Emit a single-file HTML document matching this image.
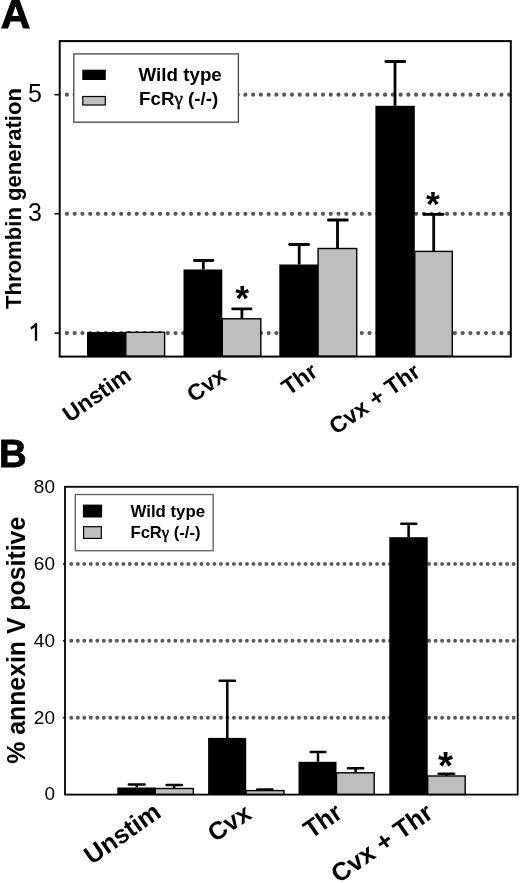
<!DOCTYPE html>
<html><head><meta charset="utf-8">
<style>
html,body{margin:0;padding:0;background:#fff;}
svg{display:block;filter:grayscale(1);}
text{font-family:"Liberation Sans",sans-serif;}
.b{font-weight:bold;}
</style></head><body>
<svg width="520" height="883" viewBox="0 0 520 883">
<rect x="0" y="0" width="520" height="883" fill="#fff"/>
<!-- ================= PANEL A ================= -->
<text x="0.7" y="28.1" class="b" font-size="41" stroke="#000" stroke-width="1" stroke-linejoin="miter">A</text>
<!-- grid dots -->
<g stroke="#585858" stroke-width="4.2" stroke-linecap="round" stroke-dasharray="0 7.76">
<line x1="66.9" y1="94.7" x2="510" y2="94.7"/>
<line x1="66.9" y1="213.8" x2="510" y2="213.8"/>
<line x1="66.9" y1="333.1" x2="510" y2="333.1"/>
</g>
<!-- ticks -->
<g stroke="#000" stroke-width="1.5">
<line x1="54.5" y1="94.7" x2="60" y2="94.7"/>
<line x1="54.5" y1="213.8" x2="60" y2="213.8"/>
<line x1="54.5" y1="333.1" x2="60" y2="333.1"/>
</g>
<g font-size="25" text-anchor="end">
<text x="42" y="102.1">5</text>
<text x="42" y="221.2">3</text>
</g>
<path d="M36 340.8V323.3M36.7 323.4C34.6 325.9 32.7 327.3 30.8 328.4" stroke="#000" stroke-width="2.3" fill="none"/>
<text class="b" font-size="21.3" text-anchor="middle" textLength="221" lengthAdjust="spacingAndGlyphs" transform="translate(20.8,198.5) rotate(-90)">Thrombin generation</text>
<!-- bars -->
<g fill="#000">
<rect x="87" y="332" width="38.8" height="24.3"/>
<rect x="183.5" y="269.5" width="38.8" height="86.8"/>
<rect x="279.3" y="264.5" width="38.8" height="91.8"/>
<rect x="375.4" y="105.8" width="39.4" height="250.5"/>
</g>
<g fill="#bebebe" stroke="#000" stroke-width="1.4">
<rect x="125.8" y="332.3" width="38.8" height="24"/>
<rect x="222.3" y="318.8" width="38.5" height="37.5"/>
<rect x="318.1" y="248.5" width="38.6" height="107.8"/>
<rect x="414.8" y="251.4" width="37.5" height="104.9"/>
</g>
<!-- error bars -->
<path d="M203.3 269.5V260.5M241.9 318.8V308.8M299.2 264.5V244.5M337.5 248.5V220M395 105.8V61.5M433.7 251.4V214.3" stroke="#000" stroke-width="2.8" fill="none"/>
<path d="M194.40 260.5H212.90M232.60 308.8H251.10M289.60 244.5H308.60M328.40 220H347.40M385.80 61.5H404.80M424.10 214.3H443.20" stroke="#000" stroke-width="2.8" stroke-linecap="round" fill="none"/>
<!-- asterisks -->
<g class="b" font-size="35.5" text-anchor="middle">
<text x="242.1" y="310.3">*</text>
<text x="433" y="215.8">*</text>
</g>
<!-- frame -->
<rect x="59.7" y="41.1" width="451.1" height="315.5" fill="none" stroke="#000" stroke-width="2"/>
<!-- legend -->
<rect x="73.8" y="53.9" width="164.6" height="68.3" fill="#fff" stroke="#444" stroke-width="1.3"/>
<rect x="82.3" y="69.7" width="23.5" height="10.3" fill="#000"/>
<rect x="82.8" y="96.5" width="22.5" height="8.5" fill="#c0c0c0" stroke="#000" stroke-width="1.2"/>
<g class="b" font-size="18.8">
<text x="138.5" y="80.6">Wild type</text>
<text x="139" y="104.6">FcR<tspan font-family="Liberation Serif" font-weight="normal" stroke="#000" stroke-width="0.5">γ</tspan> (-/-)</text>
</g>
<!-- x labels A -->
<g class="b" font-size="22.8" text-anchor="end">
<text transform="translate(132.8,378.6) rotate(-35)">Unstim</text>
<text transform="translate(228,379) rotate(-35)">Cvx</text>
<text transform="translate(319.2,374.8) rotate(-35)" textLength="37.6" lengthAdjust="spacingAndGlyphs">Thr</text>
<text transform="translate(421.7,375.2) rotate(-35)">Cvx + Thr</text>
</g>

<!-- ================= PANEL B ================= -->
<text x="-0.9" y="467.3" class="b" font-size="39.2" stroke="#000" stroke-width="0.8" textLength="27.7" lengthAdjust="spacingAndGlyphs">B</text>
<g stroke="#585858" stroke-width="3.9" stroke-linecap="round" stroke-dasharray="0 6.505">
<line x1="71.3" y1="563.9" x2="515" y2="563.9"/>
<line x1="71.3" y1="640.8" x2="515" y2="640.8"/>
<line x1="71.3" y1="717.7" x2="515" y2="717.7"/>
</g>
<g stroke="#000" stroke-width="1.5">
<line x1="63" y1="563.9" x2="65" y2="563.9"/>
<line x1="63" y1="640.8" x2="65" y2="640.8"/>
<line x1="63" y1="717.7" x2="65" y2="717.7"/>
</g>
<g font-size="19" text-anchor="end">
<text x="55" y="493">80</text>
<text x="55" y="570">60</text>
<text x="55" y="647.1">40</text>
<text x="55" y="724">20</text>
<text x="55" y="800.4">0</text>
</g>
<text class="b" font-size="26" text-anchor="middle" textLength="247" lengthAdjust="spacingAndGlyphs" transform="translate(24.5,640.3) rotate(-90)">% annexin V positive</text>
<g fill="#000">
<rect x="117.3" y="787.5" width="38" height="7"/>
<rect x="208.1" y="737.9" width="38.1" height="56.6"/>
<rect x="298.5" y="761.8" width="38" height="32.7"/>
<rect x="389.3" y="537.2" width="38.4" height="257.3"/>
</g>
<g fill="#bebebe" stroke="#000" stroke-width="1.4">
<rect x="155.2" y="788.5" width="38.1" height="6"/>
<rect x="246.2" y="790.6" width="37.8" height="3.9"/>
<rect x="336.5" y="772.8" width="37.7" height="21.7"/>
<rect x="427.7" y="776" width="37.5" height="18.5"/>
</g>
<path d="M136.7 787.5V784.6M174.2 788.5V785.1M227.3 737.9V680.8M264.9 790.6V789.4M318 761.8V752M355.6 772.8V768.3M408.6 537.2V523.7M446.3 776V773.8" stroke="#000" stroke-width="2.5" fill="none"/>
<path d="M128.85 784.6H144.55M166.65 785.1H181.85M219.55 680.8H234.95M257.25 789.4H272.45M310.75 752H325.35M347.95 768.3H363.25M401.25 523.7H416.35M438.55 773.8H454.15" stroke="#000" stroke-width="2.5" stroke-linecap="round" fill="none"/>
<text class="b" font-size="38.6" text-anchor="middle" x="445.6" y="778.8">*</text>
<rect x="65" y="486.8" width="452.7" height="307.8" fill="none" stroke="#000" stroke-width="1.8"/>
<rect x="75.3" y="494.5" width="137.8" height="56.2" fill="#fff" stroke="#666" stroke-width="1.4"/>
<rect x="82.9" y="504.6" width="19.2" height="12.9" fill="#000"/>
<rect x="83.6" y="526.7" width="17.7" height="11.7" fill="#c0c0c0" stroke="#000" stroke-width="1.2"/>
<g class="b" font-size="16.2">
<text x="130.5" y="517" textLength="74.6" lengthAdjust="spacingAndGlyphs">Wild type</text>
<text x="130.5" y="538.2" textLength="70" lengthAdjust="spacingAndGlyphs">FcR<tspan font-family="Liberation Serif" font-weight="normal" stroke="#000" stroke-width="0.5">γ</tspan> (-/-)</text>
</g>
<g class="b" font-size="25.5" text-anchor="end">
<text transform="translate(162.6,815.7) rotate(-35)">Unstim</text>
<text transform="translate(253.2,817.4) rotate(-33)" font-size="25">Cvx</text>
<text transform="translate(343.8,816.5) rotate(-35)" textLength="39.8" lengthAdjust="spacingAndGlyphs">Thr</text>
<text transform="translate(434.6,816.6) rotate(-35)">Cvx + Thr</text>
</g>
</svg>
</body></html>
